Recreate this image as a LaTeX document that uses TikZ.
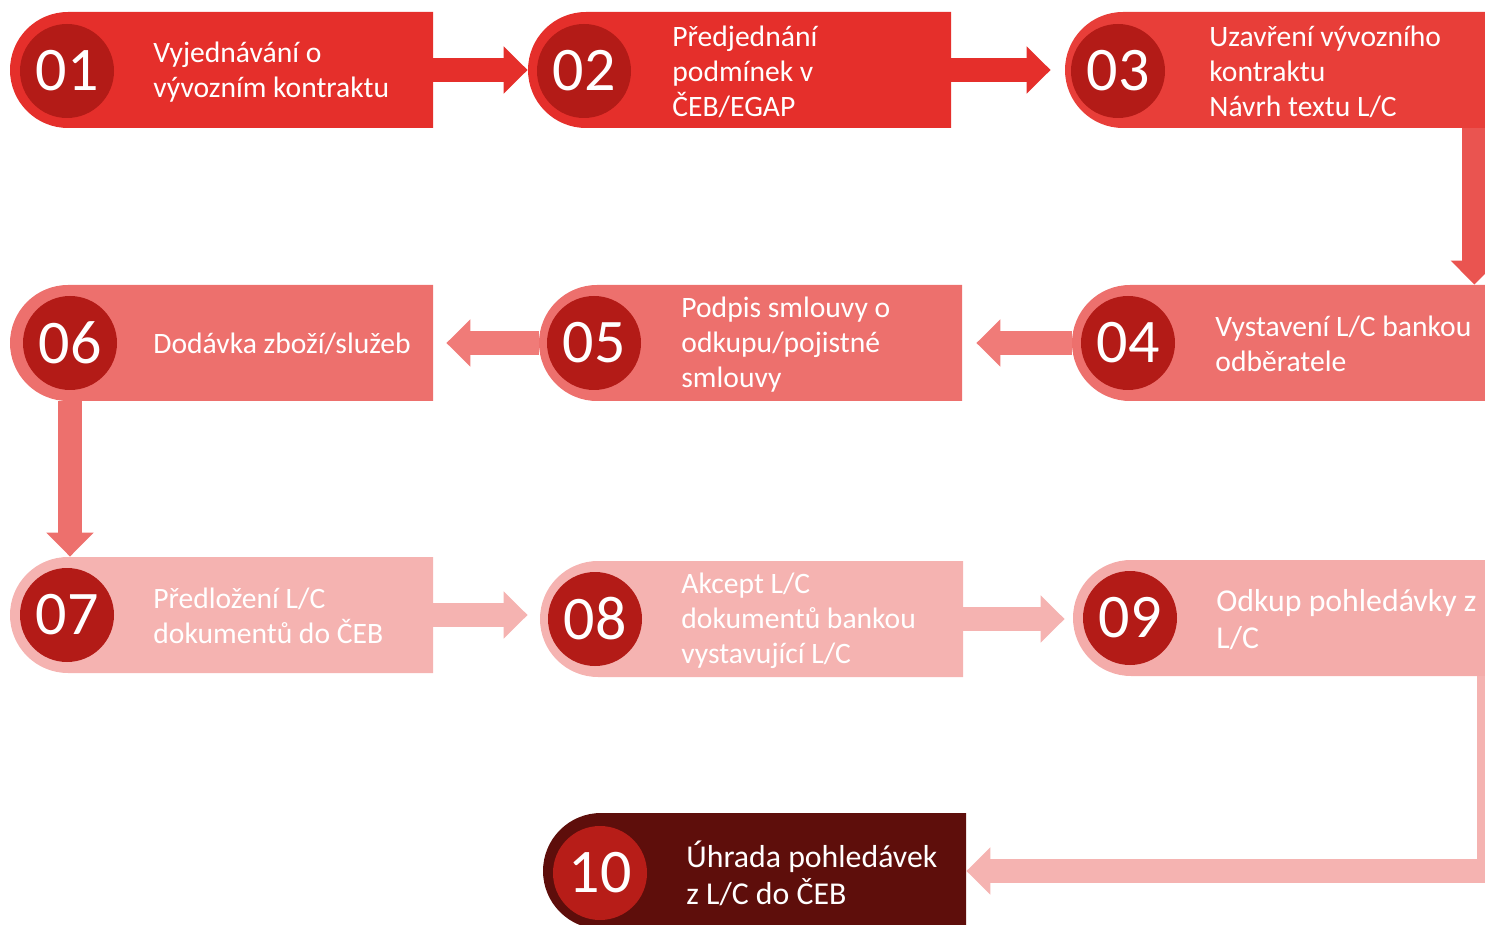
\documentclass[tikz,border=0pt]{standalone}
\usepackage{fontspec}
\setmainfont{Carlito}
\usetikzlibrary{shapes.misc,arrows.meta,calc}

\definecolor{redA}{HTML}{E52F2B}
\definecolor{redAl}{HTML}{E83E39}
\definecolor{redAr}{HTML}{EA5450}
\definecolor{redB}{HTML}{ED706D}
\definecolor{redBr}{HTML}{F07B78}
\definecolor{redC}{HTML}{F5B3B1}
\definecolor{redCl}{HTML}{F4ACAA}
\definecolor{wine}{HTML}{5E0E0B}
\definecolor{numred}{HTML}{B31B17}
\definecolor{numwine}{HTML}{B71D18}

\begin{document}
\begin{tikzpicture}[x=0.5pt, y=-0.5pt,
  box/.style={rounded rectangle, rounded rectangle right arc=none, minimum width=211.5pt, minimum height=58pt, inner sep=0pt},
  num/.style={circle, fill=numred, minimum size=47pt, inner sep=0pt, text=white, font=\fontsize{31}{31}\selectfont},
  txt/.style={anchor=west, align=left, inner sep=0pt, text=white, font=\fontsize{14.8}{17.5}\selectfont},
  flow/.style={line width=12pt, -{Triangle[width=23pt,length=12pt]}}]

\useasboundingbox (0,0) rectangle (1485,925);
\clip (0,0) rectangle (1485,925);

\node[box, fill=redA] at (221.5,70) (b1) {};
\node[box, fill=redA] at (739.5,70) (b2) {};
\node[box, fill=redAl] at (1276.5,70) (b3) {};

\node[box, fill=redB] at (1283.5,343) (b4) {};
\node[box, fill=redB] at (750.5,343) (b5) {};
\node[box, fill=redB] at (221.5,343) (b6) {};

\node[box, fill=redC] at (221.5,615) (b7) {};
\node[box, fill=redC] at (751.5,619) (b8) {};
\node[box, fill=redCl] at (1284.5,618) (b9) {};

\node[box, fill=wine] at (754.5,871) (b10) {};

\node[num] at (67,71) (n1) {01};
\node[num] at (584,71) (n2) {02};
\node[num] at (1118,71) (n3) {03};
\node[num] at (1128,343) (n4) {04};
\node[num] at (594,343) (n5) {05};
\node[num] at (70,343) (n6) {06};
\node[num] at (67,615) (n7) {07};
\node[num] at (595,619) (n8) {08};
\node[num] at (1130,618) (n9) {09};
\node[num, fill=numwine] at (600,873) (n10) {10};

\node[txt] at (153,72) (t1) {Vyjednávání o\\vývozním kontraktu};
\node[txt] at (672,72) (t2) {Předjednání\\podmínek v\\ČEB/EGAP};
\node[txt] at (1209,72) (t3) {Uzavření vývozního\\kontraktu\\Návrh textu L/C};
\node[txt] at (1215,344) (t4) {Vystavení L/C bankou\\odběratele};
\node[txt] at (681,345) (t5) {Podpis smlouvy o\\odkupu/pojistné\\smlouvy};
\node[txt] at (153,344) (t6) {Dodávka zboží/služeb};
\node[txt] at (153,616) (t7) {Předložení L/C\\dokumentů do ČEB};
\node[txt] at (681,621) (t8) {Akcept L/C\\dokumentů bankou\\vystavující L/C};
\node[txt, font=\fontsize{15.9}{18.5}\selectfont] at (1216,620) (t9) {Odkup pohledávky z\\L/C};
\node[txt, font=\fontsize{15.9}{18.5}\selectfont] at (686,873) (t10) {Úhrada pohledávek\\z L/C do ČEB};

\coordinate (c3) at ($(b3.south east)+(-14,0)$);
\coordinate (c9) at ($(b9.south east)+(-7,0)$);

\path (b1.east) edge[flow, draw=redA] (b2.west);
\path (b2.east) edge[flow, draw=redA, shorten >=7pt] (b3.west);
\draw[flow, draw=redAr] (c3) -- (c3 |- b4.north);

\path (b4.west) edge[flow, draw=redBr, shorten >=7pt] (b5.east);
\path (b5.west) edge[flow, draw=redBr, shorten >=6.5pt] (b6.east);
\draw[flow, draw=redB] (n6 |- b6.south) -- (n6 |- b7.north);

\draw[flow, draw=redC, shorten >=6pt] (b7.east) -- (b7.east -| b8.west);
\draw[flow, draw=redC, shorten >=4pt] (b8.east) -- (b8.east -| b9.west);
\draw[flow, draw=redC] (c9) |- (b10.east);

\end{tikzpicture}
\end{document}
